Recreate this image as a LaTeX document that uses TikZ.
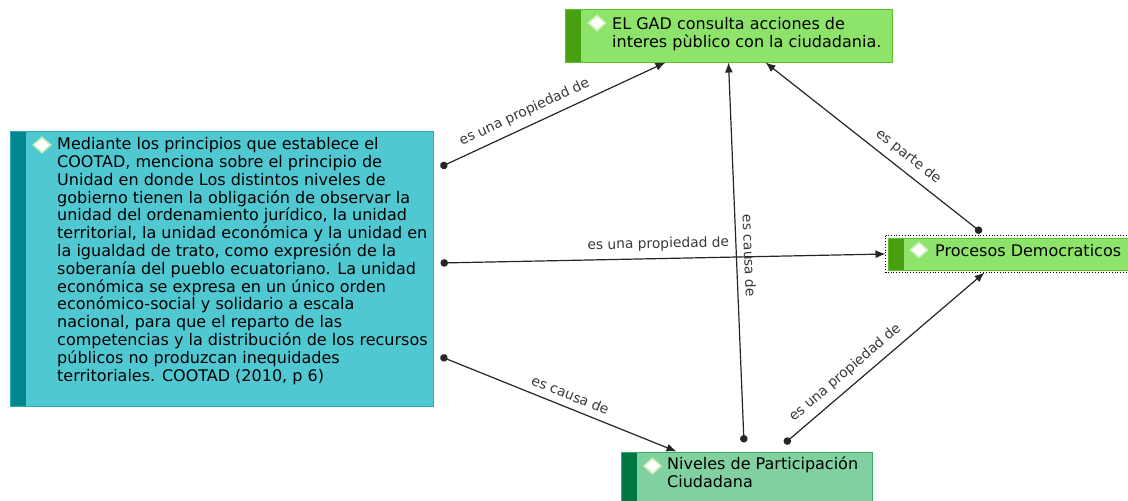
\documentclass[tikz,border=0pt]{standalone}
\usepackage{fontspec}
\setmainfont{DejaVu Sans}
\usetikzlibrary{arrows.meta,shapes.geometric}
\definecolor{gfill}{HTML}{8EE46B}
\definecolor{gstripe}{HTML}{48A010}
\definecolor{gline}{HTML}{5CBE28}
\definecolor{cfill}{HTML}{50C8D2}
\definecolor{cstripe}{HTML}{008890}
\definecolor{cline}{HTML}{2AAAB4}
\definecolor{nfill}{HTML}{80D0A0}
\definecolor{nstripe}{HTML}{007846}
\definecolor{nline}{HTML}{3CAA64}
\definecolor{linkc}{HTML}{262626}
\definecolor{labc}{HTML}{3A3A3A}
\definecolor{dmdline}{HTML}{C8F0B4}
\begin{document}
\begin{tikzpicture}[x=1pt,y=-1pt,
  card/.style={rectangle, draw=#1line, fill=#1fill, line width=1pt, inner sep=0pt,
    path picture={\fill[#1stripe] (path picture bounding box.north west) rectangle ([xshift=16pt]path picture bounding box.south west);}},
  dmd/.style={diamond, fill=white, draw=dmdline, line width=1.5pt, minimum width=18pt, minimum height=16pt, inner sep=0pt},
  txt/.style={anchor=base west, align=left, inner sep=0pt, font=\fontsize{16}{17.8}\selectfont, text=black},
  lab/.style={sloped, above=5pt, inner sep=2pt, font=\fontsize{13.8}{16}\selectfont, text=labc},
  link/.style={draw=linkc, line width=1.2pt, arrows={Circle[length=7.5pt]-Latex[length=10pt,width=8pt]}}
]
\useasboundingbox[fill=white] (0,0) rectangle (1128,501);

% boxes
\node[card=g, minimum width=327pt, minimum height=53pt] (T) at (728.5,35.5) {};
\node[card=c, minimum width=423pt, minimum height=275pt] (L) at (221.5,268.5) {};
\node[card=g, minimum width=248pt, minimum height=32pt] (P) at (1012,254) {};
\node[card=n, minimum width=251pt, minimum height=63pt] (N) at (746.5,483.5) {};
\draw[dotted, line width=0.8pt, black] ([shift={(-2pt,2pt)}]P.north west) rectangle ([shift={(2pt,-2pt)}]P.south east);

% diamonds
\node[dmd] (Td) at (597,23) {};
\node[dmd] (Ld) at (42,145) {};
\node[dmd] (Pd) at (919,250) {};
\node[dmd] (Nd) at (652.5,466) {};

% texts (base anchor = baseline of the last line)
\node[txt] (tT) at (612,47) {EL GAD consulta acciones de\\interes pùblico con la ciudadania.};
\node[txt] (tL) at (57,381) {Mediante los principios que establece el\\
COOTAD, menciona sobre el principio de\\
Unidad en donde Los distintos niveles de\\
gobierno tienen la obligación de observar la\\
unidad del ordenamiento jurídico, la unidad\\
territorial, la unidad económica y la unidad en\\
la igualdad de trato, como expresión de la\\
soberanía del pueblo ecuatoriano. La unidad\\
económica se expresa en un único orden\\
económico-social y solidario a escala\\
nacional, para que el reparto de las\\
competencias y la distribución de los recursos\\
públicos no produzcan inequidades\\
territoriales. COOTAD (2010, p 6)};
\node[txt] (tP) at (935,256) {Procesos Democraticos};
\node[txt] (tN) at (667,487) {Niveles de Participación\\Ciudadana};

% connectors
\draw[link] ([xshift=7pt,yshift=101.5pt]L.east) -- node[lab, pos=0.4] {es una propiedad de} ([xshift=-63pt]T.south);
\draw[link] ([xshift=7pt,yshift=5.5pt]L.east) -- node[lab, pos=0.49] {es una propiedad de} ([xshift=-2pt]P.west);
\draw[link] ([xshift=7pt,yshift=-88pt]L.east) -- node[lab, pos=0.53] {es causa de} ([xshift=-70pt]N.north);
\draw[link] ([xshift=-2.5pt,yshift=9pt]N.north) -- node[lab, pos=0.49] {es causa de} (T.south);
\draw[link] ([xshift=94pt,yshift=5pt]P.north west) -- node[lab, pos=0.38] {es parte de} ([xshift=37pt]T.south);
\draw[link] ([xshift=38pt,yshift=8pt]N.north) -- node[lab, pos=0.35] {es una propiedad de} ([xshift=97pt,yshift=-2pt]P.south west);
\end{tikzpicture}
\end{document}
